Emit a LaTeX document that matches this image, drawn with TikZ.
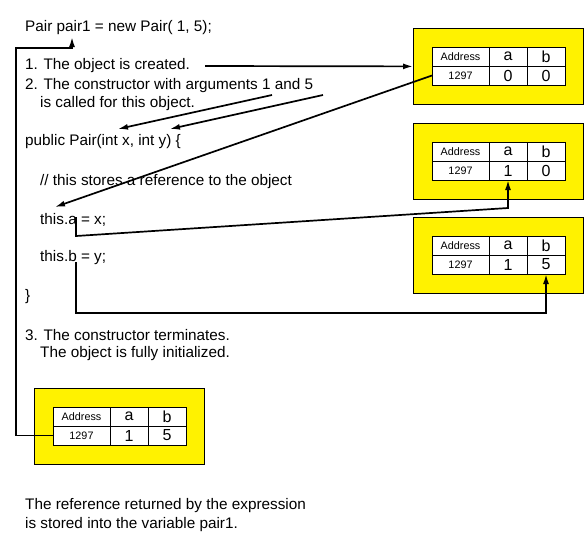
\documentclass[tikz,border=0pt]{standalone}
\usepackage{fontspec}
\setmainfont{Liberation Sans}
\usetikzlibrary{positioning,arrows.meta}

\tikzset{
  txt/.style={anchor=west, inner sep=0pt, font=\fontsize{15.3}{18}\selectfont},
  cell/.style={draw, fill=white, minimum height=19pt, inner sep=0pt, outer sep=0pt, line width=0.8pt},
  small/.style={font=\fontsize{10.8}{12}\selectfont},
  big/.style={font=\fontsize{16}{18}\selectfont},
  objbg/.style={draw, fill=yellow, minimum width=170pt, minimum height=76pt, anchor=north west, line width=0.8pt},
  arr/.style={-{Latex[length=10pt,width=6pt]}, line width=1.7pt}
}

\newcommand{\pairobj}[5]{%
  \node[objbg] (#1) at (#2-19,#3-19) {};
  \node[cell, small, minimum width=57pt, anchor=north west] (#1-addr) at (#2,#3) {Address};
  \node[cell, big, minimum width=38pt, right=0pt of #1-addr] (#1-a) {a};
  \node[cell, big, minimum width=38pt, right=0pt of #1-a] (#1-b) {b};
  \node[cell, small, minimum width=57pt, below=0pt of #1-addr] (#1-ref) {1297};
  \node[cell, big, minimum width=38pt, below=0pt of #1-a] (#1-va) {#4};
  \node[cell, big, minimum width=38pt, below=0pt of #1-b] (#1-vb) {#5};
}

\begin{document}
\begin{tikzpicture}[x=1pt, y=-1pt]
  \useasboundingbox[fill=white] (0,0) rectangle (585,542);

  \node[txt] (decl) at (25,28) {Pair pair1 = new Pair( 1, 5);};
  \node[txt] (step1) at (25,66) {1. The object is created.};
  \node[txt] (step2a) at (25,86) {2. The constructor with arguments 1 and 5};
  \node[txt] (step2b) at (40,104) {is called for this object.};
  \node[txt] (ctor) at (25,142) {public Pair(int x, int y) \{};
  \node[txt] (comment) at (40,182) {// this stores a reference to the object};
  \node[txt] (seta) at (40,220) {this.a = x;};
  \node[txt] (setb) at (40,258) {this.b = y;};
  \node[txt] (close) at (25,297) {\}};
  \node[txt] (step3a) at (25,335) {3. The constructor terminates.};
  \node[txt] (step3b) at (40,354) {The object is fully initialized.};
  \node[txt] (note1) at (25,506) {The reference returned by the expression};
  \node[txt] (note2) at (25,525) {is stored into the variable pair1.};

  \pairobj{o1}{432}{47}{0}{0}
  \pairobj{o2}{432}{142}{1}{0}
  \pairobj{o3}{432}{236}{1}{5}
  \pairobj{o4}{53}{407}{1}{5}

  \coordinate (arg1) at (272,95);
  \coordinate (arg5) at (323,95);
  \coordinate (parx) at (118,129);
  \coordinate (pary) at (170,129);
  \coordinate (this) at (55,207);
  \coordinate (fa) at (76,217);
  \coordinate (fb) at (76,262);
  \coordinate (ret) at (72,37);

  \draw[arr] ([xshift=15pt]step1.east) -- (o1.west);
  \draw[arr] (arg1) -- (parx);
  \draw[arr] (arg5) -- (pary);
  \draw[arr] (o1-ref.west) -- (this);
  \draw[arr] (fa) -- ++(0,19) -- ([yshift=-28pt]o2-va.south) -- (o2-va.south);
  \draw[arr] (fb) |- ([yshift=-39pt]o3-vb.south) -- (o3-vb.south);
  \draw[arr] (o4-ref.west) -- ++(-37,0) |- (72,48) -- (ret);
\end{tikzpicture}
\end{document}
